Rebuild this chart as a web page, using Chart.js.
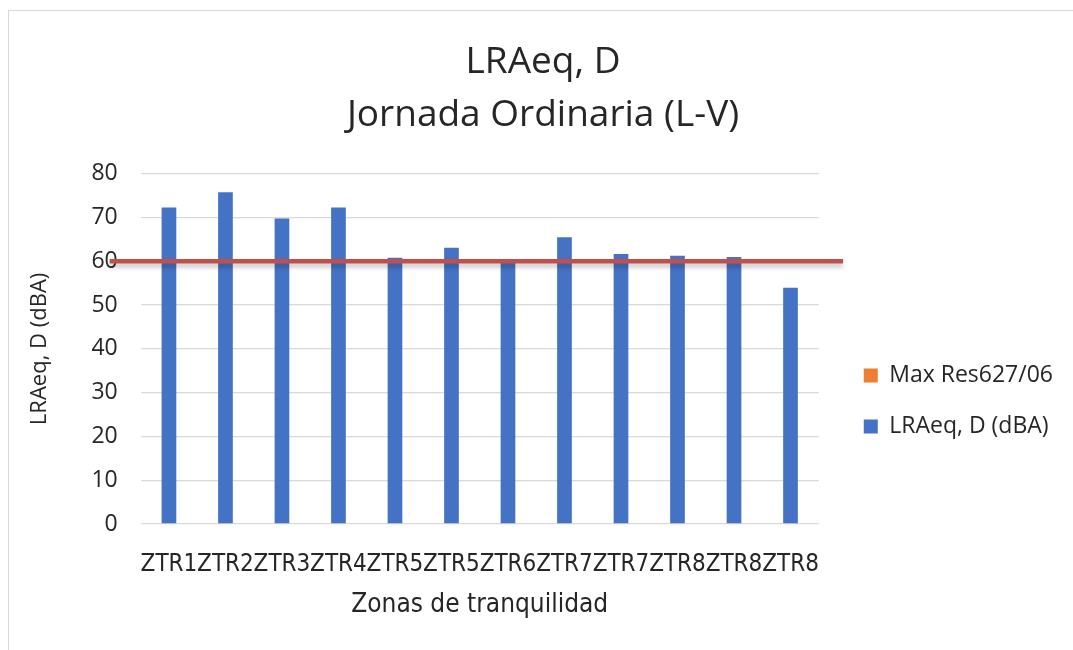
<!DOCTYPE html>
<html lang="es">

<head>
    <meta charset="UTF-8" />
    <title>LRAeq, D - Jornada Ordinaria (L-V)</title>
    <style>
        body {
            margin: 0;
            overflow: hidden;
            background: #fff;
        }

        #frame {
            position: absolute;
            left: 8px;
            top: 10px;
            right: 0;
            bottom: 0;
            border-left: 1px solid #d9d9d9;
            border-top: 1px solid #d9d9d9;
            pointer-events: none;
        }

        canvas {
            display: block;
        }
    </style>
</head>

<body>
    <canvas id="chart" width="1073" height="650"></canvas>
    <div id="frame"></div>

    <script src="https://cdn.jsdelivr.net/npm/chart.js"></script>

    <script>
        // data
        const zonas = ['ZTR1', 'ZTR2', 'ZTR3', 'ZTR4', 'ZTR5', 'ZTR5', 'ZTR6', 'ZTR7', 'ZTR7', 'ZTR8', 'ZTR8', 'ZTR8'];
        const lraeq = [72.3, 75.8, 69.8, 72.3, 60.8, 63.1, 59.8, 65.5, 61.7, 61.3, 61.0, 54.0];
        const maxRes = [60, 60, 60, 60, 60, 60, 60, 60, 60, 60, 60, 60];
        const yTicks = [0, 10, 20, 30, 40, 50, 60, 70, 80];

        const blue = '#4472C4';
        const red = '#C0504D';
        const orange = '#ED7D31';
        const textColor = '#262626';
        const uiFont = "'Open Sans', 'Noto Sans', sans-serif";
        const narrowFont = "'Liberation Sans Narrow', 'DejaVu Sans Condensed', sans-serif";

        // limit line runs a bit past the first and last category, like the original
        const last = maxRes.length - 1;
        const limitPoints = [{ x: -1.05, y: maxRes[0] }]
            .concat(maxRes.map((v, i) => ({ x: i, y: v })))
            .concat([{ x: last + 0.93, y: maxRes[last] }]);

        // soft shadow under the red line
        const lineShadow = {
            id: 'lineShadow',
            beforeDatasetDraw(chart, args) {
                if (args.index !== 0) return;
                const c = chart.ctx;
                c.save();
                c.shadowColor = 'rgba(0,0,0,0.22)';
                c.shadowBlur = 4;
                c.shadowOffsetY = 4;
            },
            afterDatasetDraw(chart, args) {
                if (args.index !== 0) return;
                chart.ctx.restore();
            }
        };

        const ctx = document.getElementById('chart').getContext('2d');
        new Chart(ctx, {
            type: 'bar',
            data: {
                labels: zonas,
                datasets: [{
                    type: 'line',
                    label: 'Max Res627/06',
                    data: limitPoints,
                    xAxisID: 'xl',
                    yAxisID: 'y',
                    borderColor: red,
                    backgroundColor: orange,
                    borderWidth: 4.5,
                    pointRadius: 0,
                    clip: false,
                    order: 0
                }, {
                    label: 'LRAeq, D (dBA)',
                    data: lraeq,
                    xAxisID: 'x',
                    yAxisID: 'y',
                    backgroundColor: blue,
                    grouped: false,
                    categoryPercentage: 1,
                    barPercentage: 0.26,
                    order: 1
                }]
            },
            options: {
                responsive: false,
                animation: false,
                layout: {
                    padding: { left: 23, right: 10, top: 0, bottom: 25 }
                },
                plugins: {
                    title: {
                        display: true,
                        text: ['LRAeq, D', 'Jornada Ordinaria (L-V)'],
                        color: textColor,
                        font: { family: uiFont, size: 37, weight: 'normal', lineHeight: 1.43 },
                        padding: { top: 36, bottom: 32 }
                    },
                    legend: {
                        position: 'right',
                        maxWidth: 260,
                        title: {
                            display: true,
                            text: ' ',
                            font: { size: 10, lineHeight: 1 },
                            padding: { top: 0, bottom: 167 }
                        },
                        labels: {
                            color: textColor,
                            font: { family: uiFont, size: 23 },
                            boxWidth: 14,
                            boxHeight: 14,
                            padding: 28,
                            generateLabels(chart) {
                                return chart.data.datasets.map((ds, i) => ({
                                    text: ds.label,
                                    fillStyle: ds.backgroundColor,
                                    strokeStyle: ds.backgroundColor,
                                    fontColor: textColor,
                                    lineWidth: 0,
                                    datasetIndex: i,
                                    hidden: false
                                }));
                            }
                        }
                    },
                    tooltip: { enabled: false }
                },
                scales: {
                    x: {
                        offset: true,
                        grid: { display: false },
                        border: { display: false },
                        ticks: {
                            color: textColor,
                            font: { family: narrowFont, size: 24 },
                            padding: 18,
                            maxRotation: 0,
                            autoSkip: false
                        },
                        title: {
                            display: true,
                            text: 'Zonas de tranquilidad',
                            color: textColor,
                            font: { family: narrowFont, size: 26 },
                            padding: { top: -7 }
                        }
                    },
                    // hidden axis matching the category slots, so the line can run past them
                    xl: {
                        type: 'linear',
                        display: false,
                        offset: false,
                        bounds: 'data',
                        afterDataLimits(axis) {
                            axis.min = -0.5;
                            axis.max = last + 0.5;
                        }
                    },
                    y: {
                        min: yTicks[0],
                        max: yTicks[yTicks.length - 1],
                        afterBuildTicks(axis) {
                            axis.ticks = yTicks.map(v => ({ value: v }));
                        },
                        grid: { color: '#d9d9d9', lineWidth: 1.3, drawTicks: false },
                        border: { display: false },
                        ticks: {
                            color: textColor,
                            font: { family: uiFont, size: 23 },
                            padding: 23
                        },
                        title: {
                            display: true,
                            text: 'LRAeq, D (dBA)',
                            color: textColor,
                            font: { family: uiFont, size: 22 },
                            padding: { bottom: 15 }
                        }
                    },
                    // empty spacer between the plot and the legend
                    gap: {
                        position: 'right',
                        grid: { display: false, drawTicks: false },
                        border: { display: false },
                        ticks: { display: false },
                        afterFit(axis) {
                            axis.width = 17;
                        }
                    }
                }
            },
            plugins: [lineShadow]
        });
    </script>
</body>

</html>
